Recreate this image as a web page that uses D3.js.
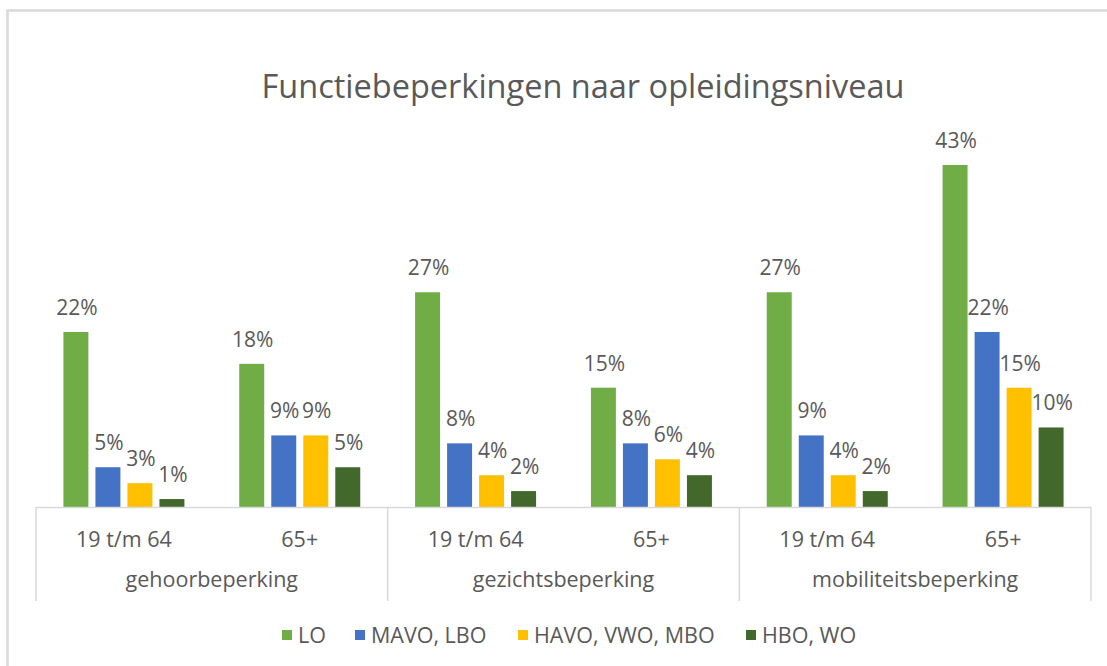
<!DOCTYPE html>
<html>
<head>
<meta charset="utf-8">
<script src="https://cdn.jsdelivr.net/npm/d3@7"></script>
<style>
  html, body { margin: 0; padding: 0; background: #fff; }
  svg { display: block; }
  text { font-family: "Open Sans", "Noto Sans", sans-serif; fill: #595959; }
</style>
</head>
<body>
<svg id="chart" width="1107" height="666"></svg>
<script>
const title = "Functiebeperkingen naar opleidingsniveau";
const groups = ["gehoorbeperking", "gezichtsbeperking", "mobiliteitsbeperking"];
const ages = ["19 t/m 64", "65+"];
const seriesNames = ["LO", "MAVO, LBO", "HAVO, VWO, MBO", "HBO, WO"];
const seriesColors = ["#70AD47", "#4472C4", "#FFC000", "#43682B"];
const LO   = [22, 18, 27, 15, 27, 43];
const MAVO = [5, 9, 8, 8, 9, 22];
const HAVO = [3, 9, 4, 6, 4, 15];
const HBO  = [1, 5, 2, 4, 2, 10];
const seriesValues = [LO, MAVO, HAVO, HBO];

const categories = [];
groups.forEach(g => ages.forEach(a => categories.push({group: g, age: a, key: g + "|" + a})));

const svg = d3.select("#chart");

// chart border
svg.append("rect")
  .attr("x", 7.5).attr("y", 10.5)
  .attr("width", 1200).attr("height", 700)
  .attr("fill", "none").attr("stroke", "#D9D9D9").attr("stroke-width", 2.5);

const left = 36, right = 1091, base = 507;
const x0 = d3.scaleBand().domain(categories.map(c => c.key)).range([left, right]).padding(0);
const bw = x0.bandwidth();
const clusterW = 121;
const x1 = d3.scaleBand().domain(seriesNames)
  .range([(bw - clusterW) / 2, (bw + clusterW) / 2]).paddingInner(0.22).paddingOuter(0);
const y = d3.scaleLinear().domain([0, 50]).range([base, base - 397.7]);

// title
svg.append("text")
  .attr("x", 583).attr("y", 98)
  .attr("text-anchor", "middle")
  .style("font-size", "32.5px")
  .text(title);

// bars
const catG = svg.selectAll("g.cat").data(categories).enter().append("g")
  .attr("class", "cat")
  .attr("transform", d => `translate(${x0(d.key)},0)`);

catG.each(function(c, ci) {
  const g = d3.select(this);
  seriesNames.forEach((s, si) => {
    const v = seriesValues[si][ci];
    g.append("rect")
      .attr("x", x1(s)).attr("y", y(v))
      .attr("width", x1.bandwidth()).attr("height", base - y(v))
      .attr("fill", seriesColors[si]);
    g.append("text")
      .attr("x", x1(s) + x1.bandwidth() / 2 + 1)
      .attr("y", y(v) - 17)
      .attr("text-anchor", "middle")
      .style("font-size", "21px")
      .text(v + "%");
  });
  g.append("text")
    .attr("x", bw / 2).attr("y", 547)
    .attr("text-anchor", "middle")
    .style("font-size", "21.5px")
    .text(c.age);
});

// axis lines
svg.append("line")
  .attr("x1", left).attr("x2", right).attr("y1", base + 0.5).attr("y2", base + 0.5)
  .attr("stroke", "#D9D9D9").attr("stroke-width", 1.5);
const sepX = [];
groups.forEach((g, gi) => sepX.push(x0(g + "|" + ages[0])));
sepX.push(right);
svg.selectAll("line.sep").data(sepX).enter().append("line")
  .attr("class", "sep")
  .attr("x1", d => d).attr("x2", d => d)
  .attr("y1", base).attr("y2", 601)
  .attr("stroke", "#D9D9D9").attr("stroke-width", 1.5);

groups.forEach((g, gi) => {
  const a = x0(g + "|" + ages[0]);
  const b = x0(g + "|" + ages[ages.length - 1]) + bw;
  svg.append("text")
    .attr("x", (a + b) / 2).attr("y", 587)
    .attr("text-anchor", "middle")
    .style("font-size", "21.5px")
    .text(g);
});

// legend
const legendX = [282, 355, 518, 746];
const legend = svg.selectAll("g.leg").data(seriesNames).enter().append("g")
  .attr("class", "leg")
  .attr("transform", (d, i) => `translate(${legendX[i]},0)`);
legend.append("rect")
  .attr("x", 0).attr("y", 630).attr("width", 10).attr("height", 10)
  .attr("fill", (d, i) => seriesColors[i]);
legend.append("text")
  .attr("x", 16).attr("y", 643)
  .style("font-size", "21.5px")
  .text(d => d);
</script>
</body>
</html>
